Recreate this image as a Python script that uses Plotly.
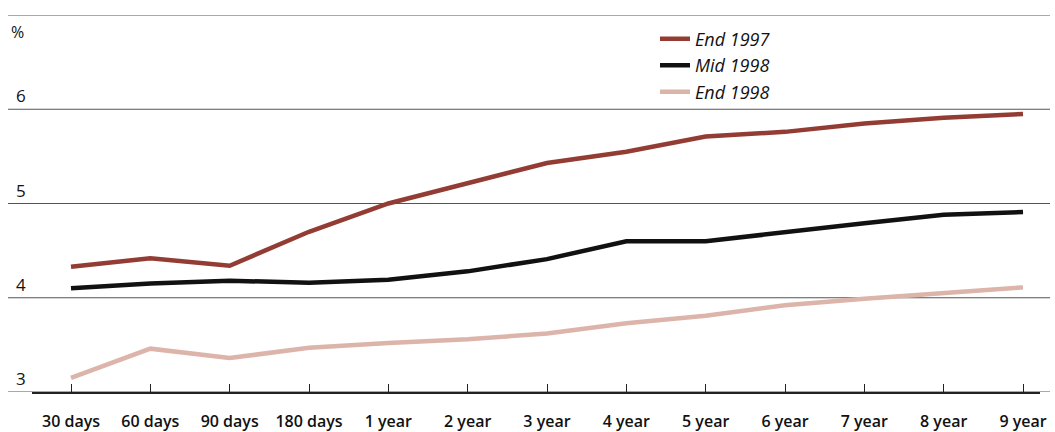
import plotly.graph_objects as go

# Maturity buckets along the yield curve
maturities = ["30 days", "60 days", "90 days", "180 days", "1 year", "2 year",
              "3 year", "4 year", "5 year", "6 year", "7 year", "8 year", "9 year"]

# Yields, per cent
end_1997 = [4.33, 4.42, 4.34, 4.70, 5.00, 5.21, 5.43, 5.55, 5.71, 5.76, 5.85, 5.91, 5.95]
mid_1998 = [4.10, 4.15, 4.18, 4.16, 4.19, 4.28, 4.41, 4.60, 4.60, 4.70, 4.79, 4.88, 4.91]
end_1998 = [3.15, 3.46, 3.36, 3.47, 3.52, 3.56, 3.62, 3.73, 3.81, 3.92, 3.99, 4.05, 4.11]

y_ticks = [3, 4, 5, 6, 7]
y_labels = ["3", "4", "5", "6"]

series = [
    ("End 1997", end_1997, "#933c33"),
    ("Mid 1998", mid_1998, "#111111"),
    ("End 1998", end_1998, "#dcb4aa"),
]

x_idx = list(range(len(maturities)))

fig = go.Figure()
for name, vals, color in series:
    fig.add_trace(go.Scatter(
        x=x_idx, y=vals, name=name, mode="lines",
        line=dict(color=color, width=4.5),
    ))

W, H = 1055, 432
ml, mr, mt, mb = 32, 15, 15, 40
pw = W - ml - mr

# Horizontal rules run wider than the plot area
gx0 = (8 - ml) / pw
gx1 = (1050 - ml) / pw
shapes = []
for v in y_ticks:
    shapes.append(dict(type="line", xref="paper", yref="y", x0=gx0, x1=gx1,
                       y0=v, y1=v, line=dict(color="#555555", width=1.2),
                       layer="below"))

annotations = []
for lab in y_labels:
    annotations.append(dict(xref="paper", yref="y", x=(14 - ml) / pw, y=float(lab),
                            text=lab, showarrow=False, xanchor="left",
                            yanchor="bottom", yshift=0,
                            font=dict(family="Open Sans", size=17, color="#111")))
annotations.append(dict(xref="paper", yref="y", x=(9 - ml) / pw, y=7,
                        text="%", showarrow=False, xanchor="left", yanchor="top",
                        yshift=-4,
                        font=dict(family="Open Sans", size=16, color="#111")))

fig.update_layout(
    width=W, height=H,
    margin=dict(l=ml, r=mr, t=mt, b=mb, autoexpand=False),
    paper_bgcolor="white", plot_bgcolor="white",
    shapes=shapes, annotations=annotations,
    showlegend=True,
    legend=dict(x=(655 - ml) / pw, y=0.985, xanchor="left", yanchor="top",
                bgcolor="rgba(0,0,0,0)", tracegroupgap=0, itemwidth=30,
                font=dict(family="Open Sans", size=18, color="#111", style="italic")),
    xaxis=dict(
        range=[-0.4916, 12.214], tickmode="array", tickvals=x_idx,
        ticktext=maturities, showgrid=False, zeroline=False, automargin=False,
        showline=True, linecolor="#222222", linewidth=1.5,
        ticks="inside", ticklen=8, tickcolor="#222222", tickwidth=1,
        ticklabelstandoff=14,
        tickfont=dict(family="Open Sans", size=16, color="#111", weight=600),
    ),
    yaxis=dict(range=[3, 7], showgrid=False, zeroline=False, automargin=False,
               showticklabels=False, ticks=""),
)

fig.write_html("out.html")
